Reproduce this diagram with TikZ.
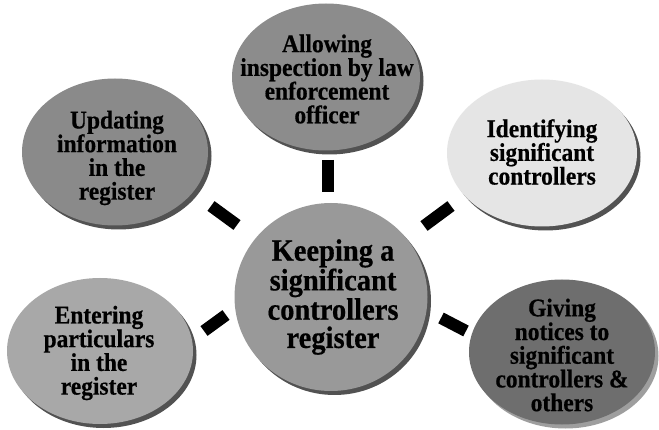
\documentclass[tikz,border=0pt]{standalone}
\usepackage{fontspec}
\setmainfont{Liberation Serif}
\newfontfamily\tallfont{Liberation Serif}[FakeStretch=0.92, FakeBold=0.5]
\usetikzlibrary{shapes.geometric,shadows,calc}
\definecolor{cAllow}{gray}{0.55}
\definecolor{cUpd}{gray}{0.54}
\definecolor{cId}{gray}{0.90}
\definecolor{cKeep}{gray}{0.60}
\definecolor{cEnt}{gray}{0.66}
\definecolor{cGive}{gray}{0.43}
\definecolor{rimDark}{gray}{0.32}
\definecolor{rimLight}{gray}{0.62}
\tikzset{
  disc/.style={ellipse, draw=none, inner sep=0pt},
  rim/.style={drop shadow={shadow xshift=3.5pt, shadow yshift=-4pt, fill=#1, opacity=1}},
  lbl/.style={align=center, inner sep=0pt, text=black, font={\tallfont\bfseries\fontsize{25.5}{23.7}\selectfont}},
  biglbl/.style={align=center, inner sep=0pt, text=black, font={\tallfont\bfseries\fontsize{31}{28.2}\selectfont}},
  barline/.style={draw=black, line width=12pt}
}
\begin{document}
\begin{tikzpicture}[x=1pt,y=-1pt]
\fill[white] (0,0) rectangle (659,430);
\useasboundingbox (0,0) rectangle (659,430);

% discs
\node[disc, fill=cAllow, rim=rimDark, minimum width=188pt, minimum height=147pt] (allow) at (326,77) {};
\node[disc, fill=cUpd, rim=rimDark, minimum width=186pt, minimum height=147pt] (upd) at (115,152) {};
\node[disc, fill=cId, rim=rimDark, minimum width=190pt, minimum height=147pt] (ident) at (542,153) {};
\node[disc, fill=cKeep, rim=rimDark, minimum width=193pt, minimum height=188pt] (keep) at (331,297) {};
\node[disc, fill=cEnt, rim=rimDark, minimum width=186pt, minimum height=146pt] (ent) at (100,351) {};
\node[disc, fill=cGive, rim=rimLight, minimum width=186pt, minimum height=145pt] (give) at (562,352) {};

% texts
\node[lbl] (allowT) at ($(allow)+(1,2)$) {Allowing\\inspection by law\\enforcement\\officer};
\node[lbl] (updT) at ($(upd)+(2,6)$) {Updating\\information\\in the\\register};
\node[lbl] (identT) at ($(ident)+(0,-1)$) {Identifying\\significant\\controllers};
\node[biglbl] (keepT) at ($(keep)+(2,0)$) {Keeping a\\significant\\controllers\\register};
\node[lbl] (entT) at ($(ent)+(-1,2)$) {Entering\\particulars\\in the\\register};
\node[lbl] (giveT) at ($(give)+(0,3)$) {Giving\\notices to\\significant\\controllers \&\\others};

% bars
\coordinate (b1a) at (328,160); \coordinate (b1b) at (328,192);
\coordinate (b2a) at (211,206); \coordinate (b2b) at (237,225);
\coordinate (b3a) at (424,226); \coordinate (b3b) at (451,206);
\coordinate (b4a) at (204,331); \coordinate (b4b) at (226,315);
\coordinate (b5a) at (441,318); \coordinate (b5b) at (466,331);
\draw[barline] (b1a) -- (b1b);
\draw[barline] (b2a) -- (b2b);
\draw[barline] (b3a) -- (b3b);
\draw[barline] (b4a) -- (b4b);
\draw[barline] (b5a) -- (b5b);
\end{tikzpicture}
\end{document}
